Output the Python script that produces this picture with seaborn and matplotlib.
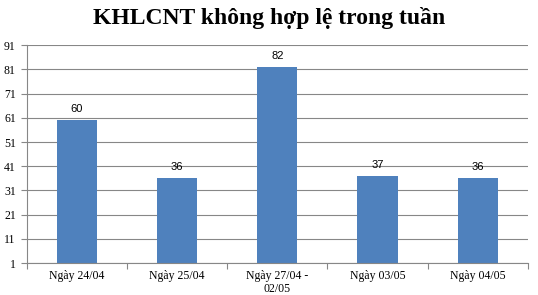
import matplotlib
matplotlib.use("Agg")
import matplotlib.pyplot as plt
import seaborn as sns
import numpy as np

categories = ["Ngày 24/04", "Ngày 25/04", "Ngày 27/04 -\n02/05", "Ngày 03/05", "Ngày 04/05"]
values = [60, 36, 82, 37, 36]
yticks = [1, 11, 21, 31, 41, 51, 61, 71, 81, 91]
title = "KHLCNT không hợp lệ trong tuần"

sns.set_theme(style="white")
plt.rcParams['font.family'] = ['Liberation Serif', 'DejaVu Serif']
plt.rcParams['text.color'] = 'black'
plt.rcParams['xtick.color'] = 'black'
plt.rcParams['ytick.color'] = 'black'

fig = plt.figure(figsize=(5.38, 2.95), dpi=100)
ax = fig.add_axes([0.050, 0.108, 0.931, 0.739])

sns.barplot(x=categories, y=values, color="#4F81BD", saturation=1, width=0.4,
            edgecolor="none", ax=ax)

ax.set_ylim(1, 91)
ax.set_xlim(-0.5, len(categories) - 0.5)
ax.set_yticks(yticks)
ax.set_yticklabels([str(t) for t in yticks], fontsize=8.5)
ax.grid(axis="y", color="#878787", linewidth=0.8)
ax.set_axisbelow(True)
ax.tick_params(axis="x", length=0, labelsize=8.5, pad=5)
ax.set_xticks(range(len(categories)))
ax.set_xticklabels(categories, fontsize=8.5, linespacing=1.1)
ax.set_xticks(np.arange(-0.5, len(categories), 1), minor=True)
ax.tick_params(axis="x", which="minor", length=4, color="#878787", width=0.8, direction="out", bottom=True)
ax.tick_params(axis="y", length=4, color="#878787", labelcolor="black", width=0.8, direction="out", left=True, pad=4)
ax.tick_params(axis="x", labelcolor="black")
for s in ["top", "right"]:
    ax.spines[s].set_visible(False)
for s in ["left", "bottom"]:
    ax.spines[s].set_color("#878787")
    ax.spines[s].set_linewidth(0.8)

for i, v in enumerate(values):
    ax.text(i, v + 2.5, str(v), ha="center", va="bottom", fontsize=8, color="black",
            family=["Liberation Sans", "DejaVu Sans"])

ax.set_xlabel("")
ax.set_ylabel("")
fig.text(0.5, 0.94, title, ha="center", va="center", fontsize=17, fontweight="bold", color="black")

fig.savefig("out.png", dpi=100)
